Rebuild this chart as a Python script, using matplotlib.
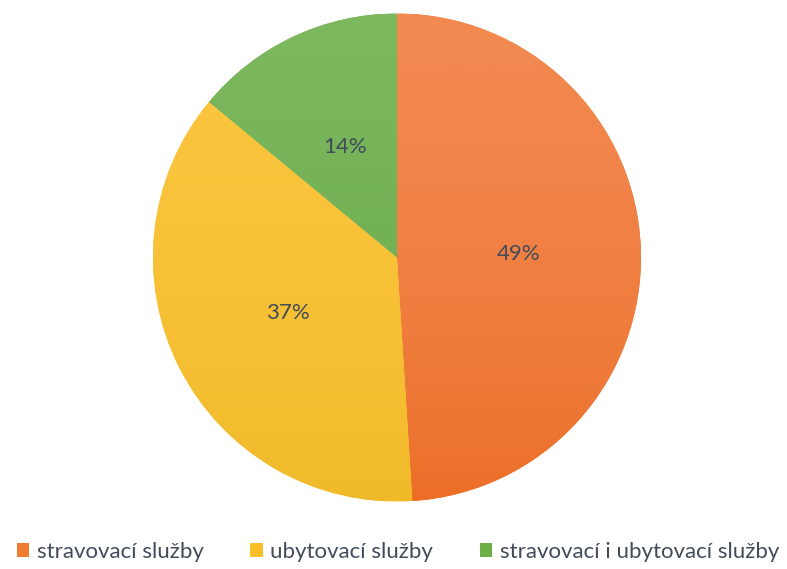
import numpy as np
import matplotlib.pyplot as plt
from matplotlib.patches import Patch
from matplotlib.colors import LinearSegmentedColormap

# data
labels = ['stravovací služby', 'ubytovací služby', 'stravovací i ubytovací služby']
values = [49, 37, 14]
colors_top = ['#F28A52', '#FCC640', '#7DB85F']
colors_bottom = ['#EC6C24', '#F0B928', '#5EA340']
colors = ['#F07C30', '#FBBF2A', '#6BAF46']

plt.rcParams['font.family'] = ['Lato', 'DejaVu Sans']

fig = plt.figure(figsize=(7.87, 5.69), dpi=100)
ax = fig.add_axes([0.0, 0.0, 1.0, 1.0])

cx, cy, R = 397 / 787, 1 - 257.5 / 569, 244 / 569
ax.set_position([cx - R * 569 / 787, cy - R, 2 * R * 569 / 787, 2 * R])

wedges, texts, autotexts = ax.pie(values, colors=colors, startangle=90, counterclock=False,
                                  autopct='%1.0f%%', pctdistance=0.5,
                                  wedgeprops=dict(edgecolor='none'),
                                  textprops=dict(color='#414B59', fontsize=16))
ax.set_xlim(-1, 1)
ax.set_ylim(-1, 1)
ax.set_aspect('equal')

# svetly gradient shora dolu
for w, ct, cb in zip(wedges, colors_top, colors_bottom):
    cmap = LinearSegmentedColormap.from_list('g', [cb, ct])
    grad = np.linspace(0, 1, 256).reshape(-1, 1) ** 0.6
    im = ax.imshow(grad, cmap=cmap, extent=(-1, 1, -1, 1), origin='lower', aspect='auto', zorder=1)
    im.set_clip_path(w)
    w.set_zorder(0)
for t in autotexts:
    t.set_zorder(3)

handles = [Patch(facecolor=c, edgecolor='none') for c in colors]
fig.legend(handles, labels, loc='center', bbox_to_anchor=(398 / 787, 1 - 552 / 569), ncol=3,
           frameon=False, fontsize=16, handlelength=0.55, handleheight=0.55,
           handletextpad=0.35, columnspacing=2.1, labelcolor='#414B59')

fig.savefig('out.png', dpi=100)
